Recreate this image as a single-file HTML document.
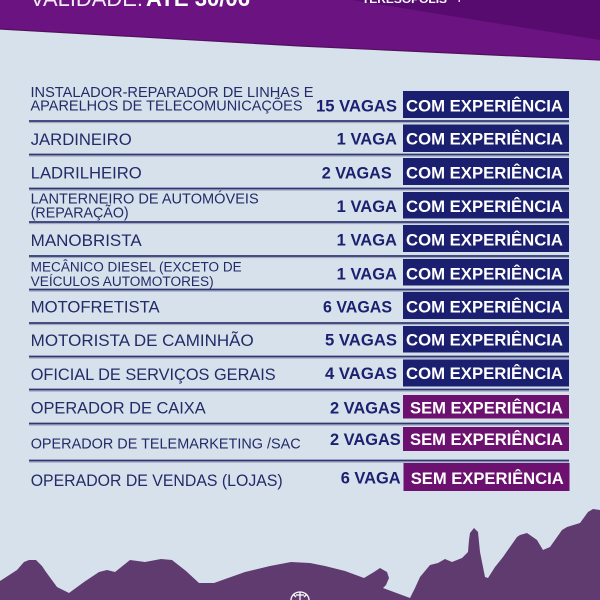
<!DOCTYPE html>
<html>
<head>
<meta charset="utf-8">
<style>
  html, body { margin: 0; padding: 0; width: 600px; height: 600px; overflow: hidden; background: #d7e1eb; }
  svg { display: block; }
  .lbl { font-family: "Liberation Sans", sans-serif; fill: #232b68; }
  .vag { font-family: "Liberation Sans", sans-serif; font-weight: bold; fill: #1b2170; font-size: 16.5px; }
  .bt  { font-family: "Liberation Sans", sans-serif; font-weight: bold; fill: #ffffff; font-size: 16.7px; }
</style>
</head>
<body>
<svg width="600" height="600" viewBox="0 0 600 600" xmlns="http://www.w3.org/2000/svg">
  <rect x="0" y="0" width="600" height="600" fill="#d7e1eb"/>

  <!-- top banner -->
  <polygon points="0,0 600,0 600,60 300,46 0,29" fill="#6b1380"/>
  <polygon points="352,0 600,0 600,40" fill="#570b6e"/>
  <polyline points="0,29 300,46 600,60" fill="none" stroke="#52105f" stroke-width="1.2"/>
  <text x="30" y="6" font-family="Liberation Sans, sans-serif" font-size="22" fill="#f3e9f6" textLength="113" lengthAdjust="spacingAndGlyphs">VALIDADE:</text>
  <text x="146" y="6" font-family="Liberation Sans, sans-serif" font-size="22" font-weight="bold" fill="#ffffff" textLength="104" lengthAdjust="spacingAndGlyphs">ATÉ 30/06</text>
  <text x="362" y="3" font-family="Liberation Sans, sans-serif" font-size="11" font-weight="bold" fill="#ffffff" textLength="85" lengthAdjust="spacingAndGlyphs">TERESÓPOLIS</text>
  <text x="456" y="3" font-family="Liberation Sans, sans-serif" font-size="11" font-weight="bold" fill="#ffffff">+</text>

  <!-- divider lines -->
  <g stroke="#2f3773" stroke-width="1.8">
    <line x1="29" y1="121" x2="569" y2="121"/>
    <line x1="29" y1="154.5" x2="569" y2="154.5"/>
    <line x1="29" y1="188.5" x2="569" y2="188.5"/>
    <line x1="29" y1="222" x2="569" y2="222"/>
    <line x1="29" y1="256" x2="569" y2="256"/>
    <line x1="29" y1="289.5" x2="569" y2="289.5"/>
    <line x1="29" y1="323" x2="569" y2="323"/>
    <line x1="29" y1="356.5" x2="569" y2="356.5"/>
    <line x1="29" y1="389.5" x2="569" y2="389.5"/>
    <line x1="29" y1="423.5" x2="569" y2="423.5"/>
    <line x1="29" y1="460.5" x2="569" y2="460.5"/>
  </g>
  <g stroke="#9aa2bd" stroke-width="1">
    <line x1="29" y1="122.6" x2="569" y2="122.6"/>
    <line x1="29" y1="156.1" x2="569" y2="156.1"/>
    <line x1="29" y1="190.1" x2="569" y2="190.1"/>
    <line x1="29" y1="223.6" x2="569" y2="223.6"/>
    <line x1="29" y1="257.6" x2="569" y2="257.6"/>
    <line x1="29" y1="291.1" x2="569" y2="291.1"/>
    <line x1="29" y1="324.6" x2="569" y2="324.6"/>
    <line x1="29" y1="358.1" x2="569" y2="358.1"/>
    <line x1="29" y1="391.1" x2="569" y2="391.1"/>
    <line x1="29" y1="425.1" x2="569" y2="425.1"/>
    <line x1="29" y1="462.1" x2="569" y2="462.1"/>
  </g>

  <!-- left labels -->
  <text class="lbl" x="30.5" y="97" font-size="14.5" textLength="283" lengthAdjust="spacingAndGlyphs">INSTALADOR-REPARADOR DE LINHAS E</text>
  <text class="lbl" x="30.5" y="110.5" font-size="14.5" textLength="272" lengthAdjust="spacingAndGlyphs">APARELHOS DE TELECOMUNICAÇÕES</text>
  <text class="lbl" x="30.7" y="145" font-size="16.7" textLength="101" lengthAdjust="spacingAndGlyphs">JARDINEIRO</text>
  <text class="lbl" x="30.7" y="178.3" font-size="16.7" textLength="111" lengthAdjust="spacingAndGlyphs">LADRILHEIRO</text>
  <text class="lbl" x="30.7" y="203.3" font-size="14.5" textLength="228" lengthAdjust="spacingAndGlyphs">LANTERNEIRO DE AUTOMÓVEIS</text>
  <text class="lbl" x="30.7" y="217.5" font-size="14.5" textLength="98" lengthAdjust="spacingAndGlyphs">(REPARAÇÃO)</text>
  <text class="lbl" x="30.7" y="246" font-size="16.7" textLength="111" lengthAdjust="spacingAndGlyphs">MANOBRISTA</text>
  <text class="lbl" x="30.7" y="271.7" font-size="13.5" textLength="211" lengthAdjust="spacingAndGlyphs">MECÂNICO DIESEL (EXCETO DE</text>
  <text class="lbl" x="30.7" y="285.8" font-size="13.5" textLength="183" lengthAdjust="spacingAndGlyphs">VEÍCULOS AUTOMOTORES)</text>
  <text class="lbl" x="30.7" y="312.7" font-size="16.7" textLength="129" lengthAdjust="spacingAndGlyphs">MOTOFRETISTA</text>
  <text class="lbl" x="30.7" y="346" font-size="16.7" textLength="223" lengthAdjust="spacingAndGlyphs">MOTORISTA DE CAMINHÃO</text>
  <text class="lbl" x="30.7" y="380" font-size="16.7" textLength="245" lengthAdjust="spacingAndGlyphs">OFICIAL DE SERVIÇOS GERAIS</text>
  <text class="lbl" x="30.7" y="413.3" font-size="16.7" textLength="175" lengthAdjust="spacingAndGlyphs">OPERADOR DE CAIXA</text>
  <text class="lbl" x="30.7" y="448.3" font-size="14.5" textLength="270" lengthAdjust="spacingAndGlyphs">OPERADOR DE TELEMARKETING /SAC</text>
  <text class="lbl" x="30.7" y="486" font-size="16.2" textLength="252" lengthAdjust="spacingAndGlyphs">OPERADOR DE VENDAS (LOJAS)</text>

  <!-- vagas -->
  <text class="vag" x="316" y="111.3" textLength="81" lengthAdjust="spacingAndGlyphs">15 VAGAS</text>
  <text class="vag" x="336.7" y="144.5" textLength="60.3" lengthAdjust="spacingAndGlyphs">1 VAGA</text>
  <text class="vag" x="321.7" y="178.5" textLength="70" lengthAdjust="spacingAndGlyphs">2 VAGAS</text>
  <text class="vag" x="336.7" y="212" textLength="60.3" lengthAdjust="spacingAndGlyphs">1 VAGA</text>
  <text class="vag" x="336.7" y="245.5" textLength="60.3" lengthAdjust="spacingAndGlyphs">1 VAGA</text>
  <text class="vag" x="336.7" y="279.5" textLength="60.3" lengthAdjust="spacingAndGlyphs">1 VAGA</text>
  <text class="vag" x="323" y="312.7" textLength="69" lengthAdjust="spacingAndGlyphs">6 VAGAS</text>
  <text class="vag" x="325" y="345.7" textLength="72" lengthAdjust="spacingAndGlyphs">5 VAGAS</text>
  <text class="vag" x="325" y="379" textLength="72" lengthAdjust="spacingAndGlyphs">4 VAGAS</text>
  <text class="vag" x="330" y="413.3" textLength="70.7" lengthAdjust="spacingAndGlyphs">2 VAGAS</text>
  <text class="vag" x="330" y="445" textLength="70.7" lengthAdjust="spacingAndGlyphs">2 VAGAS</text>
  <text class="vag" x="340.7" y="483.3" textLength="60" lengthAdjust="spacingAndGlyphs">6 VAGA</text>

  <!-- badges -->
  <g fill="#1b1f6f">
    <rect x="403" y="91" width="166" height="27"/>
    <rect x="403" y="124.5" width="166" height="27.5"/>
    <rect x="403" y="158" width="166" height="27"/>
    <rect x="403" y="192" width="166" height="26.5"/>
    <rect x="403" y="225" width="166" height="27"/>
    <rect x="403" y="259" width="166" height="26.5"/>
    <rect x="403" y="292" width="166" height="27"/>
    <rect x="403" y="326" width="166" height="26.5"/>
    <rect x="403" y="359.5" width="166" height="27"/>
  </g>
  <g fill="#6d1170">
    <rect x="403" y="395" width="166" height="23.5"/>
    <rect x="403" y="427" width="166" height="24"/>
    <rect x="403.5" y="463" width="166" height="28"/>
  </g>
  <text class="bt" x="406" y="111.7" textLength="157" lengthAdjust="spacingAndGlyphs">COM EXPERIÊNCIA</text>
  <text class="bt" x="406" y="144.7" textLength="157" lengthAdjust="spacingAndGlyphs">COM EXPERIÊNCIA</text>
  <text class="bt" x="406" y="178.5" textLength="157" lengthAdjust="spacingAndGlyphs">COM EXPERIÊNCIA</text>
  <text class="bt" x="406" y="212" textLength="157" lengthAdjust="spacingAndGlyphs">COM EXPERIÊNCIA</text>
  <text class="bt" x="406" y="245.5" textLength="157" lengthAdjust="spacingAndGlyphs">COM EXPERIÊNCIA</text>
  <text class="bt" x="406" y="279.5" textLength="157" lengthAdjust="spacingAndGlyphs">COM EXPERIÊNCIA</text>
  <text class="bt" x="406" y="312.7" textLength="157" lengthAdjust="spacingAndGlyphs">COM EXPERIÊNCIA</text>
  <text class="bt" x="406" y="345.7" textLength="157" lengthAdjust="spacingAndGlyphs">COM EXPERIÊNCIA</text>
  <text class="bt" x="406" y="379" textLength="157" lengthAdjust="spacingAndGlyphs">COM EXPERIÊNCIA</text>
  <text class="bt" x="410" y="413.3" textLength="153" lengthAdjust="spacingAndGlyphs">SEM EXPERIÊNCIA</text>
  <text class="bt" x="410" y="445" textLength="153" lengthAdjust="spacingAndGlyphs">SEM EXPERIÊNCIA</text>
  <text class="bt" x="410.7" y="484" textLength="153" lengthAdjust="spacingAndGlyphs">SEM EXPERIÊNCIA</text>

  <!-- mountains -->
  <polygon fill="#5f3b70" points="0,600 0,581 17,570 24,562 29,560 36,560 42,566 46,572 57,587 69,593 84,582 99,572 107,570 115,572 130,560 145,562 161,559 172,560 186,571 199,583 214,583 245,572 270,566 291,562 310,563 325,566 345,571 364,578 374,572 380,568 387,572 389,578 386,585 383,588 410,598 415,588 420,577 430,565 438,563 445,559 452,562 462,558 468,552 469,540 470,533 474,528 478,532 479,542 480,552 485,577 488,578 495,567 503,557 517,537 520,535 527,533 537,540 543,550 550,547 562,530 567,527 580,523 588,512 593,509 600,510 600,600"/>

  <!-- small emblem -->
  <g stroke="#ffffff" stroke-width="1.3" fill="none">
    <path d="M291,600 A9,8 0 0 1 309,600"/>
    <line x1="300" y1="592" x2="300" y2="600"/>
    <line x1="296" y1="595" x2="304" y2="595"/>
    <line x1="293" y1="594" x2="296" y2="597"/>
    <line x1="307" y1="594" x2="304" y2="597"/>
  </g>
</svg>
</body>
</html>
